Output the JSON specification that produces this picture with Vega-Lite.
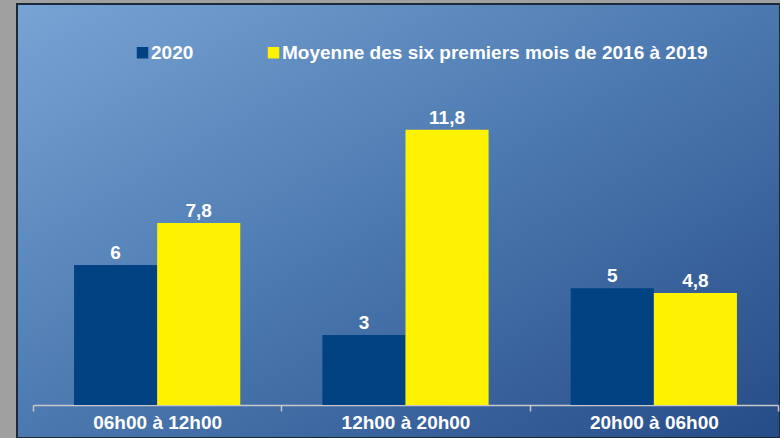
{
  "$schema": "https://vega.github.io/schema/vega-lite/v6.json",
  "width": 763,
  "height": 434,
  "autosize": "none",
  "padding": {"left": 17, "top": 4, "right": 0, "bottom": 0},
  "background": "#a0a0a0",
  "config": {
    "font": "Liberation Sans",
    "locale": {"number": {"decimal": ",", "thousands": " ", "grouping": [3], "currency": ["", " €"]}},
    "view": {
      "fill": {
        "gradient": "linear", "x1": 0, "y1": 0, "x2": 1, "y2": 1,
        "stops": [
          {"offset": 0, "color": "#78a4d4"},
          {"offset": 0.5, "color": "#4b78af"},
          {"offset": 1, "color": "#264c88"}
        ]
      },
      "stroke": "#1b2a3b",
      "strokeWidth": 2
    }
  },
  "data": {
    "values": [
      {"plage": "06h00 à 12h00", "serie": "2020", "valeur": 6},
      {"plage": "06h00 à 12h00", "serie": "Moyenne des six premiers mois de 2016 à 2019", "valeur": 7.8},
      {"plage": "12h00 à 20h00", "serie": "2020", "valeur": 3},
      {"plage": "12h00 à 20h00", "serie": "Moyenne des six premiers mois de 2016 à 2019", "valeur": 11.8},
      {"plage": "20h00 à 06h00", "serie": "2020", "valeur": 5},
      {"plage": "20h00 à 06h00", "serie": "Moyenne des six premiers mois de 2016 à 2019", "valeur": 4.8}
    ]
  },
  "encoding": {
    "x": {
      "field": "plage", "type": "nominal", "sort": null,
      "scale": {"range": [16, 761], "paddingInner": 0, "paddingOuter": 0},
      "axis": {
        "title": null, "labelAngle": 0, "offset": -33, "tickBand": "extent",
        "domainColor": "#c8c8c8", "domainWidth": 1.5, "tickColor": "#c8c8c8", "tickWidth": 1.5, "tickSize": 6,
        "labelColor": "#ffffff", "labelFont": "Liberation Sans", "labelFontSize": 19, "labelFontWeight": "bold",
        "labelPadding": 2, "labelBaseline": "top"
      }
    },
    "xOffset": {"field": "serie", "type": "nominal", "sort": null, "scale": {"paddingInner": 0, "paddingOuter": 0.494}},
    "y": {
      "field": "valeur", "type": "quantitative",
      "scale": {"domain": [0, 14], "range": [401, 74.3], "nice": false, "zero": true},
      "axis": null
    }
  },
  "layer": [
    {
      "mark": {"type": "bar", "strokeWidth": 0},
      "encoding": {
        "color": {
          "field": "serie", "type": "nominal", "sort": null,
          "scale": {"domain": ["2020", "Moyenne des six premiers mois de 2016 à 2019"], "range": ["#004282", "#fff200"]},
          "legend": {
            "title": null, "orient": "none", "direction": "horizontal", "legendX": 116, "legendY": 39,
            "symbolType": "square", "symbolSize": 132, "symbolStrokeWidth": 0, "padding": 0,
            "labelColor": "#ffffff", "labelFont": "Liberation Sans", "labelFontSize": 19, "labelFontWeight": "bold",
            "labelOffset": -1, "columnPadding": 70, "labelLimit": 600
          }
        }
      }
    },
    {
      "mark": {"type": "text", "dy": -6, "baseline": "alphabetic", "align": "center", "color": "#ffffff", "font": "Liberation Sans", "fontSize": 19, "fontWeight": "bold"},
      "encoding": {
        "text": {"field": "valeur", "type": "quantitative", "format": "~g"}
      }
    }
  ]
}
